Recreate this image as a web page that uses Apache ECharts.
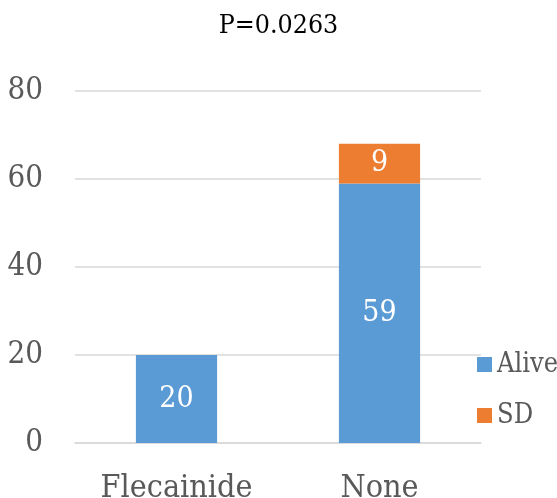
<!DOCTYPE html>
<html>
<head>
<meta charset="utf-8">
<style>
  html, body { margin: 0; padding: 0; background: #ffffff; }
  #chart { width: 557px; height: 498px; }
</style>
<script src="https://cdn.jsdelivr.net/npm/echarts@6/dist/echarts.min.js"></script>
</head>
<body>
<div id="chart"></div>
<script>
// Groups on the x axis
const categories = ['Flecainide', 'None'];
// Counts per group, stacked
const aliveValues = [20, 59];
const sdValues = [0, 9];
// Y axis range
const yMin = 0;
const yMax = 80;
const yStep = 20;

const FONT = '"DejaVu Serif Condensed", "Liberation Serif", serif';

const chart = echarts.init(document.getElementById('chart'), null, { renderer: 'canvas' });

const barLabel = {
  show: true,
  position: 'inside',
  color: '#ffffff',
  fontFamily: FONT,
  fontSize: 30,
  formatter: p => (p.value ? String(p.value) : '')
};

chart.setOption({
  animation: false,
  backgroundColor: '#ffffff',
  title: {
    text: 'P=0.0263',
    left: 'center',
    top: 8,
    textStyle: { fontFamily: FONT, fontSize: 26.5, fontWeight: 'normal', color: '#000000' }
  },
  legend: {
    orient: 'vertical',
    left: 472,
    top: 346,
    itemWidth: 15,
    itemHeight: 15,
    itemGap: 24,
    icon: 'rect',
    textStyle: { fontFamily: FONT, fontSize: 27, color: '#595959' },
    data: ['Alive', 'SD']
  },
  grid: { left: 75, right: 76, top: 91, bottom: 55, containLabel: false, outerBoundsMode: 'none' },
  xAxis: {
    type: 'category',
    data: categories,
    axisLine: { lineStyle: { color: '#D9D9D9', width: 1.5 } },
    axisTick: { show: false },
    axisLabel: { interval: 0, fontFamily: FONT, fontSize: 32, color: '#595959', margin: 30 }
  },
  yAxis: {
    type: 'value',
    min: yMin,
    max: yMax,
    interval: yStep,
    axisLine: { show: false },
    axisTick: { show: false },
    splitLine: { lineStyle: { color: '#D9D9D9', width: 1.5 } },
    axisLabel: { fontFamily: FONT, fontSize: 31, color: '#595959', margin: 32 }
  },
  series: [
    {
      name: 'Alive',
      type: 'bar',
      stack: 'total',
      barWidth: '40%',
      data: aliveValues,
      itemStyle: { color: '#5B9BD5' },
      label: barLabel
    },
    {
      name: 'SD',
      type: 'bar',
      stack: 'total',
      barWidth: '40%',
      data: sdValues,
      itemStyle: { color: '#ED7D31' },
      label: barLabel
    }
  ]
});
</script>
</body>
</html>
